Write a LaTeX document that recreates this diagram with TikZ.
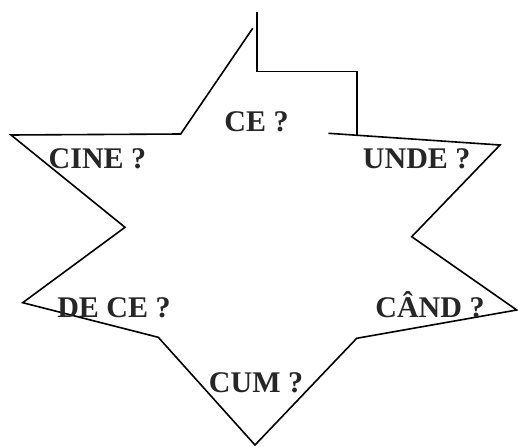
\documentclass[tikz,border=0pt]{standalone}
\usepackage{fontspec}
\setmainfont{Liberation Serif}

\begin{document}
\begin{tikzpicture}[yscale=-1
  ,pstyle0/.style={color=black,line width=1.6pt,line join=miter}
  ,pstyle1/.style={color=black!85,font=\fontsize{30}{36}\selectfont\bfseries,anchor=base,inner sep=0pt}
]
\useasboundingbox (0pt,0pt) rectangle (518pt,446pt);

% --- Stem and step on top ---
\draw[pstyle0] (256.7pt,11.7pt) -- (256.7pt,71.7pt) -- (356.7pt,71.7pt) -- (356.7pt,135pt);

% --- Star outline ---
\draw[pstyle0] (328.3pt,133.3pt) -- (500pt,145pt) -- (411.7pt,236.7pt) -- (516.7pt,310pt)
  -- (356.7pt,338.3pt) -- (255pt,445pt) -- (158.3pt,337.3pt) -- (22.7pt,302.7pt)
  -- (125pt,227.3pt) -- (11pt,135pt) -- (180.7pt,134pt) -- (252.7pt,28.3pt);

% --- Questions ---
\node[pstyle1] (ce) at (256.5pt,132pt) {CE ?};
\node[pstyle1] (cine) at (97.5pt,168pt) {CINE ?};
\node[pstyle1] (unde) at (416.7pt,169pt) {UNDE ?};
\node[pstyle1] (dece) at (114pt,317pt) {DE CE ?};
\node[pstyle1] (cand) at (430pt,317pt) {CÂND ?};
\node[pstyle1] (cum) at (256pt,392pt) {CUM ?};

\end{tikzpicture}
\end{document}
